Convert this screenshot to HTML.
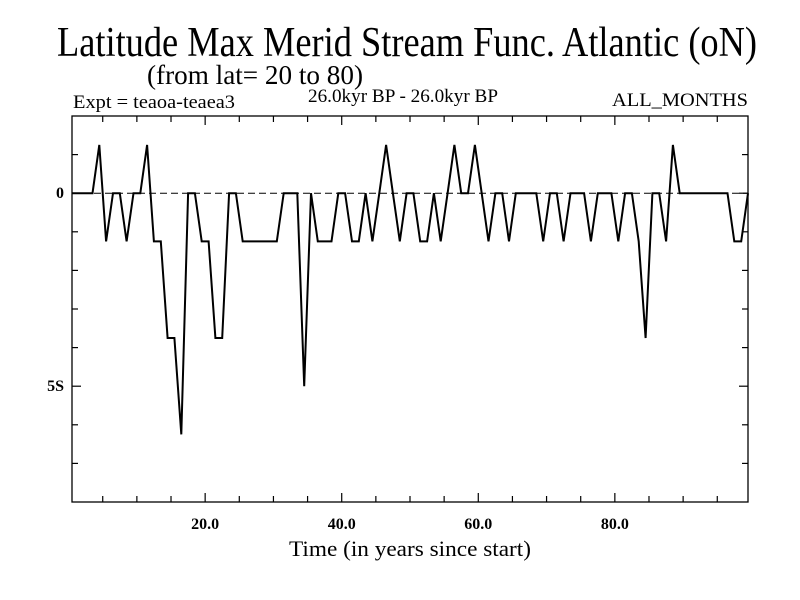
<!DOCTYPE html>
<html><head><meta charset="utf-8"><style>
html,body{margin:0;padding:0;background:#fff;}
svg{display:block;font-family:"Liberation Serif",serif;}
</style></head><body>
<svg id="chart" width="800" height="600" viewBox="0 0 800 600">
<text x="57" y="56" font-size="42" textLength="700" lengthAdjust="spacingAndGlyphs">Latitude Max Merid Stream Func. Atlantic (oN)</text>
<text x="147" y="84" font-size="27" textLength="216" lengthAdjust="spacingAndGlyphs">(from lat= 20 to 80)</text>
<text x="73" y="108" font-size="19" textLength="162" lengthAdjust="spacingAndGlyphs">Expt = teaoa-teaea3</text>
<text x="308" y="102" font-size="19" textLength="190" lengthAdjust="spacingAndGlyphs">26.0kyr BP - 26.0kyr BP</text>
<text x="612" y="106" font-size="19" textLength="136" lengthAdjust="spacingAndGlyphs">ALL_MONTHS</text>
<text x="410" y="556" font-size="22" text-anchor="middle" textLength="242" lengthAdjust="spacingAndGlyphs">Time (in years since start)</text>
<g id="axes"></g>
<g id="marks"></g>
</svg>
<script>
const times = [];
for (let i = 0; i < 100; i++) times.push(i + 0.5);
const values = [0,0,0,0,1.25,-1.25,0,0,-1.25,0,0,1.25,-1.25,-1.25,-3.75,-3.75,-6.25,0,0,-1.25,
-1.25,-3.75,-3.75,0,0,-1.25,-1.25,-1.25,-1.25,-1.25,-1.25,0,0,0,-5,0,-1.25,-1.25,-1.25,0,
0,-1.25,-1.25,0,-1.25,0,1.25,0,-1.25,0,0,-1.25,-1.25,0,-1.25,0,1.25,0,0,1.25,
0,-1.25,0,0,-1.25,0,0,0,0,-1.25,0,0,-1.25,0,0,0,-1.25,0,0,0,
-1.25,0,0,-1.25,-3.75,0,0,-1.25,1.25,0,0,0,0,0,0,0,0,-1.25,-1.25,0];
const xTickLabels = ["20.0","40.0","60.0","80.0"];
const xTickValues = [20,40,60,80];
const yTickLabels = ["0","5S"];
const yTickValues = [0,-5];
const xDomain = [0.5, 99.5];
const yDomain = [-8, 2];

const L=72, R=748, T=116, B=502;
const NS="http://www.w3.org/2000/svg";
const xs = v => L + (v - xDomain[0]) / (xDomain[1] - xDomain[0]) * (R - L);
const ys = v => B - (v - yDomain[0]) / (yDomain[1] - yDomain[0]) * (B - T);
function mk(tag, attrs, parent){const e=document.createElementNS(NS,tag);for(const k in attrs)e.setAttribute(k,attrs[k]);parent.appendChild(e);return e;}
const axes=document.getElementById('axes'), marks=document.getElementById('marks');

const frame=mk('rect',{x:L,y:T,width:R-L,height:B-T,fill:'none',stroke:'#000','stroke-width':1.3},axes);



for(let v=5; v<100; v+=5){
  const x=xs(v), len=(v%20===0)?9:6;
  const t1=mk('line',{x1:x,x2:x,y1:B,y2:B-len,stroke:'#000','stroke-width':1.2},axes);
  
  
  const t2=mk('line',{x1:x,x2:x,y1:T,y2:T+len,stroke:'#000','stroke-width':1.2},axes);
  
  
}
xTickValues.forEach((v,i)=>{
  const t=mk('text',{x:xs(v),y:529,'font-size':16,'font-weight':'bold','text-anchor':'middle'},axes);
  t.textContent=xTickLabels[i];
  
  
});
for(let v=yDomain[0]+1; v<yDomain[1]; v+=1){
  const y=ys(v), len=(v%5===0)?9:6;
  const a=mk('line',{x1:L,x2:L+len,y1:y,y2:y,stroke:'#000','stroke-width':1.2},axes);
  
  
  const b=mk('line',{x1:R,x2:R-len,y1:y,y2:y,stroke:'#000','stroke-width':1.2},axes);
  
  
}
yTickValues.forEach((v,i)=>{
  const t=mk('text',{x:64,y:ys(v)+5,'font-size':16,'font-weight':'bold','text-anchor':'end'},axes);
  t.textContent=yTickLabels[i];
  
  
});
const zl=mk('line',{x1:L,x2:R,y1:ys(0),y2:ys(0),stroke:'#000','stroke-width':1,'stroke-dasharray':'7,4'},marks);


const pts=times.map((t,i)=>xs(t).toFixed(1)+','+ys(values[i]).toFixed(1)).join(' ');
const line=mk('polyline',{points:pts,fill:'none',stroke:'#000','stroke-width':2,'stroke-linejoin':'miter'},marks);


</script>
</body></html>
